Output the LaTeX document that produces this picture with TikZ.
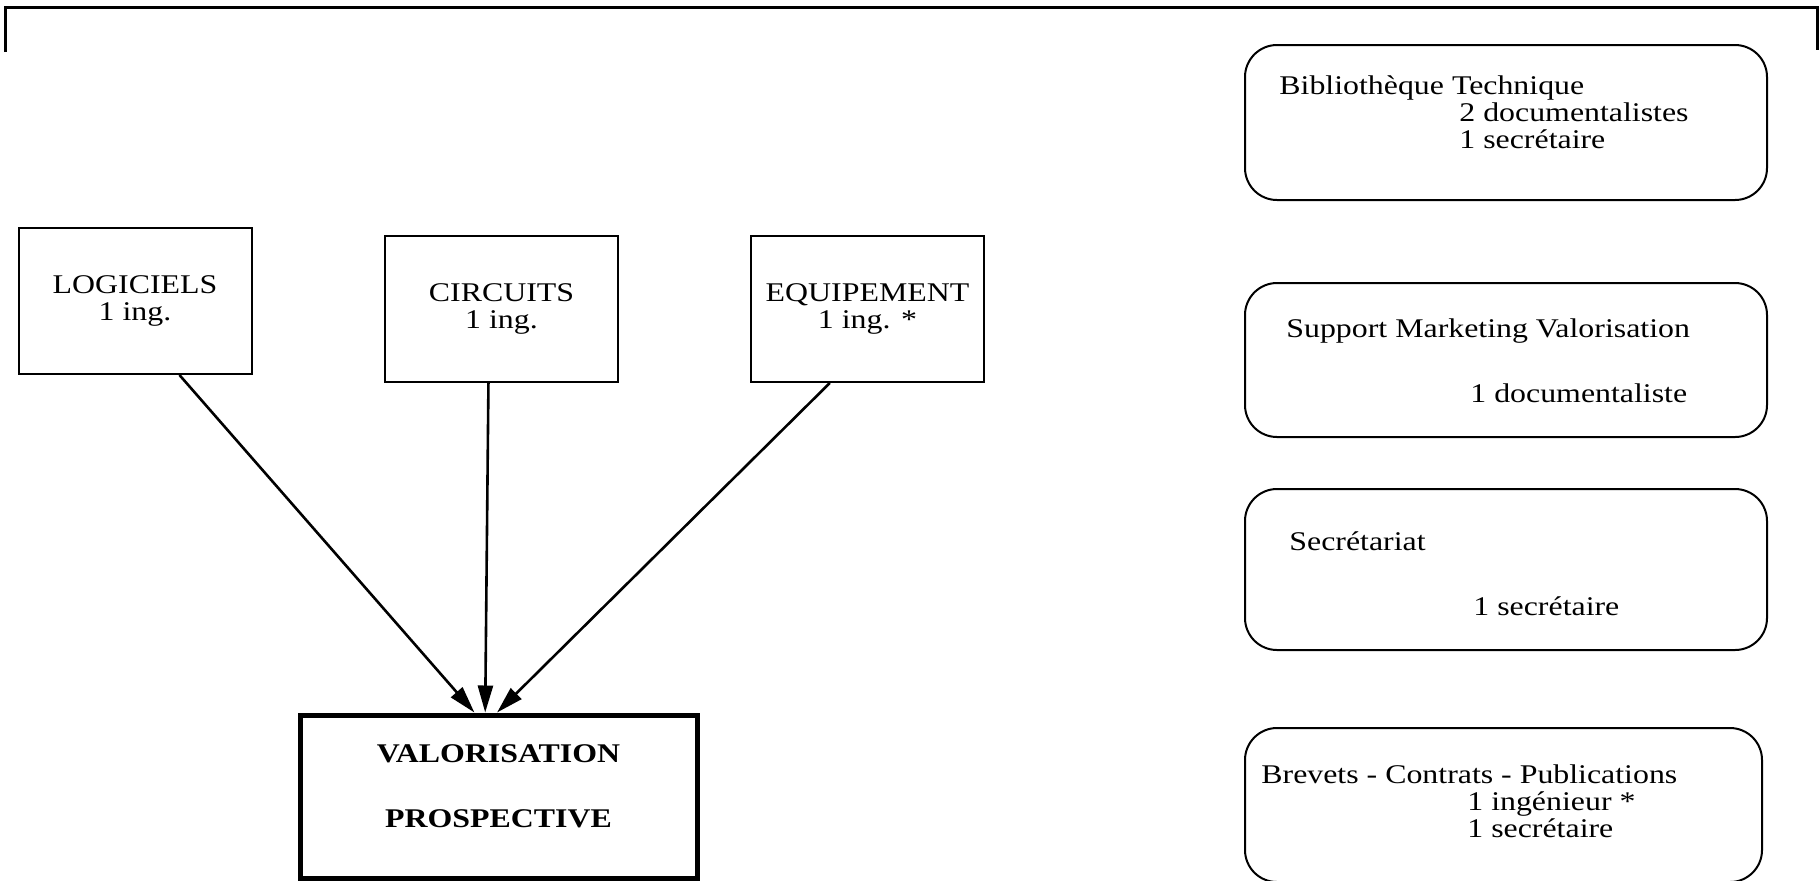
\documentclass[tikz,border=0pt]{standalone}
\usepackage{fontspec}
\setmainfont{Liberation Serif}[FakeStretch=1.18]
\usetikzlibrary{arrows.meta}
\tikzset{
	unite/.style={draw, line width=1pt, minimum width=116.5pt, minimum height=73pt, align=center},
	service/.style={draw, line width=1pt, rounded corners=16pt, minimum width=261pt},
	texte/.style={inner sep=0pt, anchor=north west, align=left},
	fleche/.style={line width=1.3pt, -{Triangle[length=13.5pt,width=7.5pt]}}
}
\begin{document}
\begin{tikzpicture}[x=0.5pt, y=-0.5pt, font=\fontsize{13.5}{13.5}\selectfont]
	\useasboundingbox (0,0) rectangle (1820,880);
	\draw[line width=1.5pt] (5,52) -- (5,7) -- (1817,7) -- (1817,50);
	\node[unite] (logiciels) at (135,301) {LOGICIELS\\1 ing.};
	\node[unite] (circuits) at (501.5,309) {CIRCUITS\\1 ing.};
	\node[unite] (equipement) at (867.5,309) {EQUIPEMENT\\1 ing. *};
	\node[draw, line width=2.5pt, minimum width=198.5pt, minimum height=81.5pt, align=center, font=\fontsize{13.5}{13.5}\selectfont\bfseries] (valo) at (498.5,796.5) {VALORISATION\\[19pt]PROSPECTIVE\\[-3.5pt]\mbox{}};
	\draw[fleche] (logiciels.-59) -- (valo.106);
	\draw[fleche] (circuits.260) -- (valo.99);
	\draw[fleche] (equipement.243) -- (valo.91);
	\node[service, minimum height=77.5pt] (biblio) at (1506,122.5) {};
	\node[texte] (biblio-texte) at (1279,75) {Bibliothèque Technique\\\hspace*{90pt}2 documentalistes\\\hspace*{90pt}1 secrétaire};
	\node[service, minimum height=77pt] (support) at (1506,360) {};
	\node[texte] (support-texte) at (1286,318) {Support Marketing Valorisation\\[19pt]\hspace*{92pt}1 documentaliste};
	\node[service, minimum height=80.5pt] (secretariat) at (1506,569.5) {};
	\node[texte] (secretariat-texte) at (1289,531) {Secrétariat\\[19pt]\hspace*{92pt}1 secrétaire};
	\node[service, minimum width=258.5pt, minimum height=77pt] (brevets) at (1503.5,805) {};
	\node[texte] (brevets-texte) at (1261,764) {Brevets - Contrats - Publications\\\hspace*{103pt}1 ingénieur *\\\hspace*{103pt}1 secrétaire};
\end{tikzpicture}
\end{document}
